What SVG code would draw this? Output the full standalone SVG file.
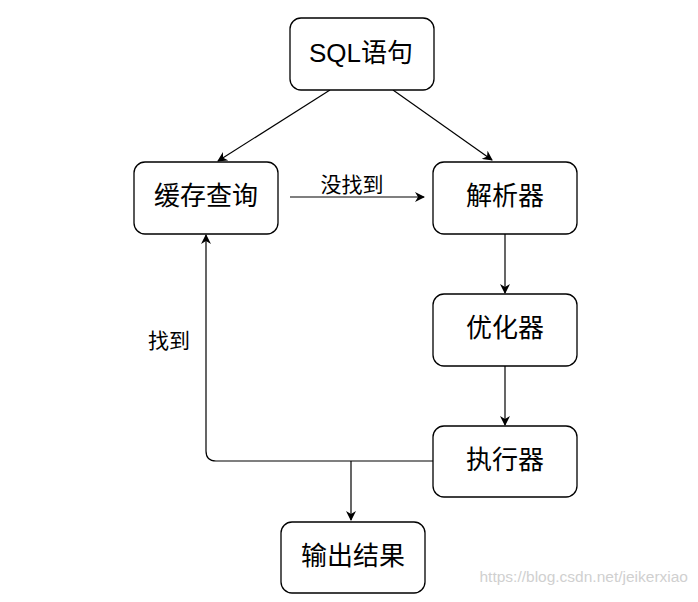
<svg xmlns="http://www.w3.org/2000/svg" width="698" height="602" viewBox="0 0 698 602">
<style>
.box{fill:#fff;stroke:#000;stroke-width:1.3}
.lbl{font-family:"Liberation Sans","Noto Sans CJK SC",sans-serif;font-size:26px;fill:#000;text-anchor:middle;dominant-baseline:central}
.edge{fill:none;stroke:#000;stroke-width:1.2}
.el{font-family:"Liberation Sans","Noto Sans CJK SC",sans-serif;font-size:21px;fill:#000;text-anchor:middle;dominant-baseline:central}
</style>
<defs>
<marker id="ah" viewBox="0 0 10 10" refX="9" refY="5" markerWidth="10" markerHeight="10" markerUnits="userSpaceOnUse" orient="auto">
<path d="M0,0 L10,5 L0,10 L3,5 Z" fill="#000"/>
</marker>
</defs>
<rect width="698" height="602" fill="#fff"/>
<g id="connectors">
<path class="edge" d="M330,90 L218,161" marker-end="url(#ah)"/>
<path class="edge" d="M393,90 L492,160" marker-end="url(#ah)"/>
<path class="edge" d="M290,197 L424,197" marker-end="url(#ah)"/>
<path class="edge" d="M505,234 L505,293" marker-end="url(#ah)"/>
<path class="edge" d="M505,366 L505,425" marker-end="url(#ah)"/>
<path class="edge" d="M433,461 L216,461 Q206,461 206,451 L206,235" marker-end="url(#ah)"/>
<path class="edge" d="M351,461 L351,520" marker-end="url(#ah)"/>
<text class="el" x="352" y="184">没找到</text>
<text class="el" x="169" y="340">找到</text>
</g>
<g id="sql"><rect class="box" x="290" y="18" width="144" height="72" rx="11"/><text class="lbl" x="361" y="53">SQL语句</text></g>
<g id="cache"><rect class="box" x="134" y="162" width="144" height="72" rx="11"/><text class="lbl" x="206" y="196">缓存查询</text></g>
<g id="parser"><rect class="box" x="433" y="162" width="144" height="72" rx="11"/><text class="lbl" x="505" y="196">解析器</text></g>
<g id="optimizer"><rect class="box" x="433" y="294" width="144" height="72" rx="11"/><text class="lbl" x="505" y="328">优化器</text></g>
<g id="executor"><rect class="box" x="433" y="426" width="144" height="71" rx="11"/><text class="lbl" x="505" y="460">执行器</text></g>
<g id="output"><rect class="box" x="281" y="522" width="144" height="71" rx="11"/><text class="lbl" x="353" y="556">输出结果</text></g>
<text x="688" y="582" font-family="Liberation Sans,sans-serif" font-size="15.5px" fill="#d0d0d0" text-anchor="end">https://blog.csdn.net/jeikerxiao</text>
</svg>
